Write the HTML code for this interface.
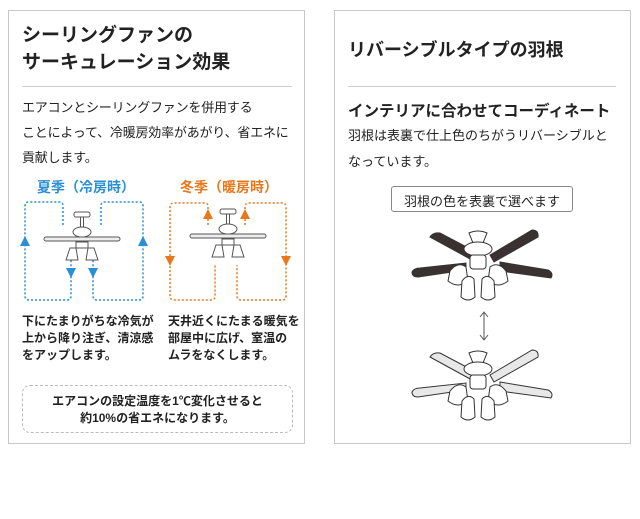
<!DOCTYPE html>
<html><head><meta charset="utf-8"><style>
body{margin:0;width:640px;height:519px;background:#fff;position:relative;font-family:"Liberation Sans","Noto Sans CJK JP",sans-serif;color:#222;overflow:hidden}
.p{position:absolute;border:1px solid #c8c8c8;box-sizing:border-box}
.t{position:absolute;white-space:nowrap}
</style></head><body>
<div class="p" style="left:8px;top:10px;width:297px;height:434px"></div>
<div class="p" style="left:334px;top:10px;width:297px;height:434px"></div>

<div class="t" style="left:22px;top:22px;font-size:19px;font-weight:bold;line-height:27px">シーリングファンの<br>サーキュレーション効果</div>
<div style="position:absolute;left:22px;top:86px;width:270px;height:1px;background:#ccc"></div>
<div class="t" style="left:22px;top:95px;font-size:13px;letter-spacing:-0.2px;line-height:25px">エアコンとシーリングファンを併用する<br>ことによって、冷暖房効率があがり、省エネに<br>貢献します。</div>
<div class="t" style="left:37px;top:177px;font-size:14px;font-weight:bold;color:#2a8fd4">夏季（冷房時）</div>
<div class="t" style="left:180px;top:177px;font-size:14px;font-weight:bold;color:#e8781e">冬季（暖房時）</div>
<div class="t" style="left:22px;top:313px;font-size:12px;font-weight:bold;line-height:17px">下にたまりがちな冷気が<br>上から降り注ぎ、清涼感<br>をアップします。</div>
<div class="t" style="left:168px;top:313px;font-size:12px;font-weight:bold;line-height:17px">天井近くにたまる暖気を<br>部屋中に広げ、室温の<br>ムラをなくします。</div>
<div style="position:absolute;left:22px;top:385px;width:271px;height:48px;border:1px dashed #bbb;border-radius:8px;box-sizing:border-box"></div>
<div class="t" style="left:22px;top:393px;width:271px;text-align:center;font-size:12px;font-weight:bold;line-height:17px">エアコンの設定温度を1℃変化させると<br>約10%の省エネになります。</div>

<div class="t" style="left:348px;top:36px;font-size:18px;font-weight:bold">リバーシブルタイプの羽根</div>
<div style="position:absolute;left:348px;top:86px;width:268px;height:1px;background:#ccc"></div>
<div class="t" style="left:348px;top:99px;font-size:15.5px;font-weight:bold">インテリアに合わせてコーディネート</div>
<div class="t" style="left:348px;top:123px;font-size:13px;line-height:26px">羽根は表裏で仕上色のちがうリバーシブルと<br>なっています。</div>
<div style="position:absolute;left:391px;top:186px;width:182px;height:26px;border:1px solid #888;border-radius:3px;box-sizing:border-box"></div>
<div class="t" style="left:391px;top:191px;width:182px;text-align:center;font-size:13px">羽根の色を表裏で選べます</div>

<svg width="640" height="519" style="position:absolute;left:0;top:0">
<defs>
<g id="sf" stroke="#555" stroke-width="1" fill="#fff">
<rect x="-8" y="-30" width="16" height="5" rx="2"/>
<rect x="-1.5" y="-25" width="3" height="10"/>
<ellipse cx="0" cy="-10" rx="9" ry="5"/>
<rect x="-38" y="-5" width="76" height="4" rx="2" fill="#eee"/>
<path d="M-16,18 L-12,6 L-6,6 L-4,18 Z"/>
<path d="M4,18 L6,6 L12,6 L16,18 Z"/>
<rect x="-6" y="0" width="12" height="6"/>
</g>
<g id="bf" stroke="#333" stroke-width="1" fill="#fff">
<path d="M-9,-20 Q0,-24 9,-20 L5,-10 L-5,-10 Z"/>
<ellipse cx="0" cy="-4" rx="14" ry="7"/>
<rect x="-8" y="2" width="16" height="14" rx="3"/>
<path d="M-28,18 Q-20,8 -12,14 L-10,28 Q-20,36 -30,28 Z"/>
<path d="M28,18 Q20,8 12,14 L10,28 Q20,36 30,28 Z"/>
<path d="M-16,28 Q-10,20 -4,26 L-3,44 Q-10,50 -17,44 Z"/>
<path d="M16,28 Q10,20 4,26 L3,44 Q10,50 17,44 Z"/>
</g>
</defs>
<g fill="none" stroke-width="1.5" stroke-dasharray="2 2">
<path d="M63,225 V206 Q63,202 59,202 H29 Q25,202 25,206 V296 Q25,300 29,300 H67 Q71,300 71,296 V258" stroke="#2a8fd4"/>
<path d="M101,225 V206 Q101,202 105,202 H139 Q143,202 143,206 V296 Q143,300 139,300 H97 Q93,300 93,296 V258" stroke="#2a8fd4"/>
<path d="M208,225 V206 Q208,203 204,203 H174 Q170,203 170,207 V296 Q170,300 174,300 H211 Q215,300 215,296 V265" stroke="#e8781e"/>
<path d="M245,225 V207 Q245,203 249,203 H282 Q286,203 286,207 V296 Q286,300 282,300 H241 Q237,300 237,296 V265" stroke="#e8781e"/>
</g>
<g fill="#2a8fd4"><path d="M20,246 L25,236 L30,246Z M138,246 L143,236 L148,246Z M66,268 L71,278 L76,268Z M88,268 L93,278 L98,268Z"/></g>
<g fill="#e8781e"><path d="M203,219 L208,209 L213,219Z M240,219 L245,209 L250,219Z M165,256 L170,266 L175,256Z M281,256 L286,266 L291,256Z"/></g>
<use href="#sf" transform="translate(82,242)"/>
<use href="#sf" transform="translate(228,239)"/>

<g stroke="#333" stroke-width="1" fill="#3a3230">
<path d="M430,237 Q433,232 440,233 L476,252 L472,260 Z"/>
<path d="M490,255 L532,230 Q539,230 538,237 L494,262 Z"/>
<path d="M412,272 Q414,268 420,268 L466,263 L466,270 L418,277 Q412,277 412,272Z"/>
<path d="M500,262 L548,270 Q554,273 551,278 L500,271 Z"/>
</g>
<use href="#bf" transform="translate(478,253)"/>
<g stroke="#333" stroke-width="1" fill="#e8e8e8">
<path d="M430,357 Q433,352 440,353 L476,372 L472,380 Z"/>
<path d="M490,375 L532,350 Q539,350 538,357 L494,382 Z"/>
<path d="M412,392 Q414,388 420,388 L466,383 L466,390 L418,397 Q412,397 412,392Z"/>
<path d="M500,382 L548,390 Q554,393 551,398 L500,391 Z"/>
</g>
<use href="#bf" transform="translate(478,373)"/>
<g stroke="#555" stroke-width="1" fill="none">
<path d="M484,313 V339 M480,317 L484,312 L488,317 M480,335 L484,340 L488,335"/>
</g>
</svg>
</body></html>
